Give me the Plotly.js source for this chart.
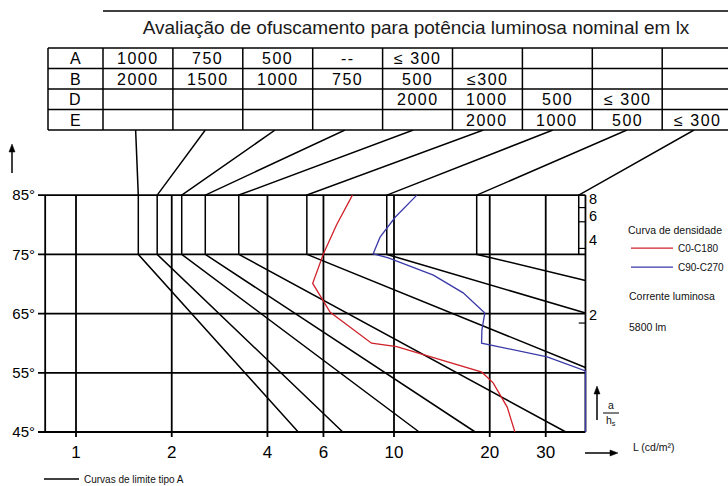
<!DOCTYPE html>
<html><head><meta charset="utf-8">
<script src="https://cdn.plot.ly/plotly-3.0.1.min.js"></script>
<style>html,body{margin:0;padding:0;background:#fff}#chart{width:728px;height:486px}</style>
</head><body><div id="chart"></div>
<script>
// ---------------- data ----------------
const titleText = 'Avaliação de ofuscamento para potência luminosa nominal em lx';
const rowLabels = ['A', 'B', 'D', 'E'];
const rowA = ['1000', '750', '500', '--', '≤ 300', '', '', '', ''];
const rowB = ['2000', '1500', '1000', '750', '500', '≤300', '', '', ''];
const rowD = ['', '', '', '', '2000', '1000', '500', '≤ 300', ''];
const rowE = ['', '', '', '', '', '2000', '1000', '500', '≤ 300'];

const angleTicks = [45, 55, 65, 75, 85];
const angleTickText = ['45°', '55°', '65°', '75°', '85°'];
const lumTicks = [1, 2, 4, 6, 10, 20, 30];
const lumTickText = ['1', '2', '4', '6', '10', '20', '30'];
const lumMin = 0.8, lumMax = 40;

// glare limit curves (type A): table edge -> vertical part (85°..75°) -> lower branch
const limitTableAngle = 96;
const limitTableL = [1.54, 2.55, 4.23, 7.01, 11.5, 19.1, 31.6, 54.0, 87.8];
const limitVertL  = [1.57, 1.80, 2.15, 2.55, 3.25, 5.32, 9.49, 18.2, 38.1];
const limitEndL     = [5.0, 6.9, 12.0, 18.0, 34.7, 40, 40, 40, null];
const limitEndAngle = [45, 45, 45, 45, 45, 55.9, 65.1, 70.6, null];

// luminance density curves
const redL     = [7.4, 6.6, 6.0, 5.55, 6.3, 8.5, 10.2, 18.9, 20.5, 22.7, 24.0];
const redAngle = [85, 80, 75.1, 70.1, 65.2, 60.0, 59.4, 55.1, 53.3, 49.2, 45];
const blueL     = [11.8, 10.1, 9.04, 8.6, 9.6, 13.3, 16.5, 18.9, 19.3, 18.9, 18.85, 30.3, 40, 40];
const blueAngle = [85, 81.3, 77.9, 75.1, 74.4, 71.5, 68.5, 65.6, 65.1, 62.2, 60.0, 57.7, 55.3, 45];

// a/hs scale on the right edge
const ahsValues = ['8', '6', '4', '2'];
const ahsTickAngles = [82.9, 80.5, 76.0, 63.4];
const ahsLabelAngles = [84.35, 81.5, 77.4, 64.8];

const seriesNames = ['Curvas de limite tipo A', 'C0-C180', 'C90-C270'];
const fluxLabel = 'Corrente luminosa';
const fluxValue = '5800 lm';
const legendTitle = 'Curva de densidade';
const unitLabel = 'L (cd/m²)';

// ---------------- layout helpers ----------------
const W = 728, H = 486;
const px = x => x / W, py = y => 1 - y / H;
const FONT = 'Liberation Sans, Arial, sans-serif';
const xRange = [(38 - 76) / 318, (728 - 76) / 318];
const yRange = [45 - 8 * 51 / 302, 96];
const xTickEnd = 45 - 5 * 51 / 302;
const leftEdgeL = Math.pow(10, xRange[0]);

// grid / frame
const gx = [], gy = [];
angleTicks.forEach(a => { gx.push(leftEdgeL, lumMax, null); gy.push(a, a, null); });
lumTicks.forEach(l => { gx.push(l, l, null); gy.push(xTickEnd, 85, null); });
[lumMin, lumMax].forEach(l => { gx.push(l, l, null); gy.push(45, 85, null); });

// a/hs ticks
const tx = [], ty = [];
ahsTickAngles.forEach(a => { tx.push(limitVertL[8], lumMax, null); ty.push(a, a, null); });

// limit curves
const lx = [], ly = [];
limitTableL.forEach((t, i) => {
  lx.push(t, limitVertL[i], limitVertL[i]); ly.push(limitTableAngle, 85, 75);
  if (limitEndL[i] !== null) { lx.push(limitEndL[i]); ly.push(limitEndAngle[i]); }
  lx.push(null); ly.push(null);
});

const traces = [
  {x: gx, y: gy, mode: 'lines', line: {color: '#000', width: 1.8}, showlegend: false, hoverinfo: 'skip'},
  {x: tx, y: ty, mode: 'lines', line: {color: '#000', width: 1.2}, showlegend: false, hoverinfo: 'skip'},
  {x: lx, y: ly, mode: 'lines', name: seriesNames[0], legend: 'legend2', line: {color: '#000', width: 1.5}},
  {x: redL, y: redAngle, mode: 'lines', name: seriesNames[1], line: {color: '#d0202a', width: 1.3}},
  {x: blueL, y: blueAngle, mode: 'lines', name: seriesNames[2], line: {color: '#3a3aa8', width: 1.3}}
];

// ---------------- table ----------------
const shapes = [];
const annotations = [];
const tblLeft = 48, lblW = 55, colW = 69.9, tblTop = 48, rowH = 20.5;
const rows = [rowA, rowB, rowD, rowE];
const lineBlack = {color: '#000', width: 1.5};
for (let i = 0; i <= 4; i++) {
  const y = tblTop + i * rowH;
  shapes.push({type: 'line', xref: 'paper', yref: 'paper', x0: px(tblLeft), x1: 1, y0: py(y), y1: py(y), line: lineBlack});
}
const colEdges = [tblLeft, tblLeft + lblW];
for (let k = 1; k <= 8; k++) colEdges.push(tblLeft + lblW + k * colW);
colEdges.forEach(x => shapes.push({type: 'line', xref: 'paper', yref: 'paper', x0: px(x), x1: px(x), y0: py(tblTop), y1: py(tblTop + 4 * rowH), line: lineBlack}));
const sp = t => '<span style="letter-spacing:1.5px">' + t + '</span>';
const cellFont = {size: 16, family: FONT, color: '#000'};
rows.forEach((r, i) => {
  const yc = tblTop + (i + 0.5) * rowH + 0.5;
  annotations.push({xref: 'paper', yref: 'paper', x: px(tblLeft + lblW / 2), y: py(yc), text: sp(rowLabels[i]), showarrow: false, xanchor: 'center', yanchor: 'middle', font: cellFont});
  r.forEach((v, j) => {
    if (!v) return;
    const xc = tblLeft + lblW + (j + 0.5) * colW;
    annotations.push({xref: 'paper', yref: 'paper', x: px(xc), y: py(yc), text: sp(v), showarrow: false, xanchor: 'center', yanchor: 'middle', font: cellFont});
  });
});
// title rule
shapes.push({type: 'line', xref: 'paper', yref: 'paper', x0: px(103), x1: 1, y0: py(11), y1: py(11), line: lineBlack});

// a/hs labels
ahsValues.forEach((v, i) => annotations.push({xref: 'x', yref: 'y', x: Math.log10(lumMax), y: ahsLabelAngles[i], xshift: 2, text: v, showarrow: false, xanchor: 'left', yanchor: 'middle', font: {size: 14.5, family: FONT, color: '#000'}}));

// side texts
const small = {size: 10.5, family: FONT, color: '#111'};
annotations.push({xref: 'paper', yref: 'paper', x: px(627), y: py(296), text: fluxLabel, showarrow: false, xanchor: 'left', yanchor: 'middle', font: small});
annotations.push({xref: 'paper', yref: 'paper', x: px(627), y: py(327), text: fluxValue, showarrow: false, xanchor: 'left', yanchor: 'middle', font: small});
annotations.push({xref: 'paper', yref: 'paper', x: px(631), y: py(447), text: unitLabel, showarrow: false, xanchor: 'left', yanchor: 'middle', font: small});
annotations.push({xref: 'paper', yref: 'paper', x: px(611), y: py(405), text: 'a', showarrow: false, xanchor: 'center', yanchor: 'middle', font: small});
annotations.push({xref: 'paper', yref: 'paper', x: px(611), y: py(421), text: 'h<sub>s</sub>', showarrow: false, xanchor: 'center', yanchor: 'middle', font: small});
shapes.push({type: 'line', xref: 'paper', yref: 'paper', x0: px(603), x1: px(619), y0: py(413), y1: py(413), line: {color: '#000', width: 1}});

// arrows (line + head)
function upArrow(x, yTop, yBot) {
  shapes.push({type: 'line', xref: 'paper', yref: 'paper', x0: px(x), x1: px(x), y0: py(yBot), y1: py(yTop + 4), line: lineBlack});
  shapes.push({type: 'path', xref: 'paper', yref: 'paper', path: `M${px(x)},${py(yTop)} L${px(x - 3)},${py(yTop + 8)} L${px(x + 3)},${py(yTop + 8)} Z`, fillcolor: '#000', line: {color: '#000', width: 0.5}});
}
function rightArrow(xL, xR, y) {
  shapes.push({type: 'line', xref: 'paper', yref: 'paper', x0: px(xL), x1: px(xR - 4), y0: py(y), y1: py(y), line: lineBlack});
  shapes.push({type: 'path', xref: 'paper', yref: 'paper', path: `M${px(xR)},${py(y)} L${px(xR - 8)},${py(y - 3)} L${px(xR - 8)},${py(y + 3)} Z`, fillcolor: '#000', line: {color: '#000', width: 0.5}});
}
upArrow(12, 144, 173);
upArrow(597, 386, 420);
rightArrow(585, 618, 453);

const layout = {
  width: W, height: H, autosize: false,
  margin: {l: 0, r: 0, t: 0, b: 0, pad: 0, autoexpand: false},
  paper_bgcolor: '#fff', plot_bgcolor: 'rgba(0,0,0,0)',
  font: {family: FONT, color: '#000'},
  title: {text: titleText, x: px(416), y: py(27), xanchor: 'center', yanchor: 'middle', xref: 'paper', font: {size: 19, family: FONT, color: '#1a1a1a'}},
  xaxis: {type: 'log', domain: [38 / W, 1], range: xRange, tickvals: lumTicks, ticktext: lumTickText, ticks: '', showgrid: false, zeroline: false, showline: false, tickfont: {size: 17, family: FONT, color: '#000'}, automargin: false, fixedrange: true},
  yaxis: {domain: [1 - 440 / H, 1 - 130 / H], range: yRange, tickvals: angleTicks, ticktext: angleTickText, ticks: '', ticklabelstandoff: 2, showgrid: false, zeroline: false, showline: false, tickfont: {size: 15, family: FONT, color: '#000'}, automargin: false, fixedrange: true},
  legend: {x: px(626), y: py(220), xanchor: 'left', yanchor: 'top', itemwidth: 42, bgcolor: 'rgba(0,0,0,0)', font: {size: 10, family: FONT, color: '#111'}, title: {text: legendTitle, font: {size: 10.5, family: FONT, color: '#111'}}, tracegroupgap: 0},
  legend2: {x: px(39), y: py(479), xanchor: 'left', yanchor: 'middle', itemwidth: 35, bgcolor: 'rgba(0,0,0,0)', font: {size: 10, family: FONT, color: '#111'}},
  shapes: shapes,
  annotations: annotations,
  hovermode: false
};

Plotly.newPlot('chart', traces, layout, {displayModeBar: false, staticPlot: true});
</script>
</body></html>
